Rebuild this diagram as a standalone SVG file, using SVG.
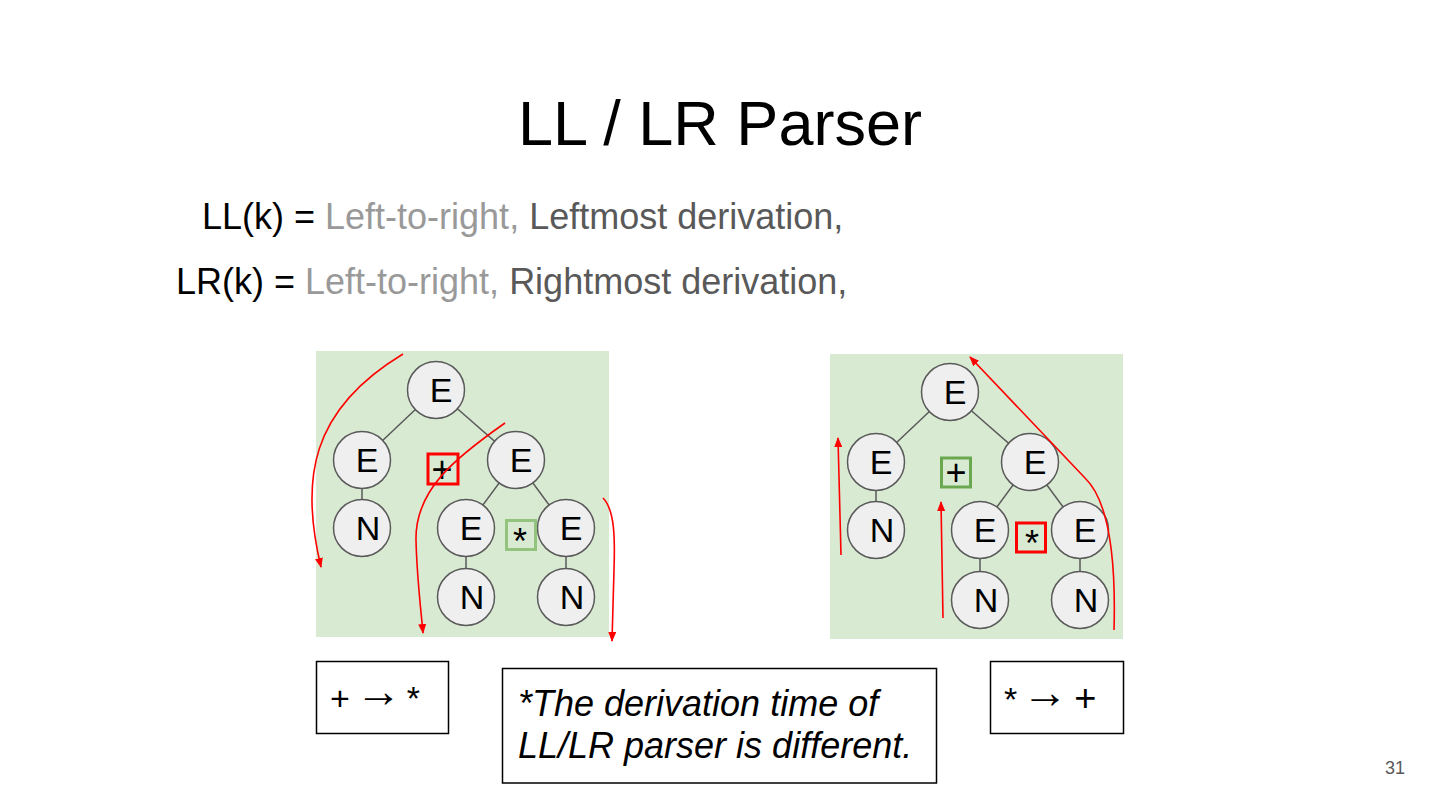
<svg xmlns="http://www.w3.org/2000/svg" width="1440" height="810" viewBox="0 0 1440 810">
<style>
  text { font-family: "Liberation Sans", Arial, sans-serif; }
  .panel { fill: #d9ead3; stroke: none; }
  .edge { stroke: #595959; stroke-width: 1.5; fill: none; }
  .node circle { fill: #efefef; stroke: #595959; stroke-width: 1.5; }
  .node text { font-size: 34px; fill: #000; text-anchor: middle; }
  .op { font-size: 36px; fill: #000; text-anchor: middle; }
  .redbox { fill: none; stroke: #ff0000; stroke-width: 3; }
  .greenbox-light { fill: none; stroke: #93c47d; stroke-width: 3; }
  .greenbox-dark { fill: none; stroke: #6aa84f; stroke-width: 3; }
  .trace { stroke: #ff0000; stroke-width: 1.6; fill: none; marker-end: url(#redhead); }
  .box { fill: #ffffff; stroke: #000; stroke-width: 1.5; }
  .arr { font-size: 46px; }
</style>
<defs>
  <marker id="redhead" markerUnits="userSpaceOnUse" markerWidth="10" markerHeight="8" refX="9" refY="4" orient="auto">
    <path d="M0,0 L10,4 L0,8 z" fill="#ff0000"/>
  </marker>
</defs>
<rect width="1440" height="810" fill="#ffffff"/>

<text x="720" y="145" font-size="63" text-anchor="middle" fill="#000">LL / LR Parser</text>

<text x="202" y="229" font-size="36"><tspan fill="#000">LL(k) = </tspan><tspan fill="#999999">Left-to-right, </tspan><tspan fill="#595959">Leftmost derivation,</tspan></text>
<text x="176" y="294" font-size="36"><tspan fill="#000">LR(k) = </tspan><tspan fill="#999999">Left-to-right, </tspan><tspan fill="#595959">Rightmost derivation,</tspan></text>

<rect class="panel" x="316" y="351" width="293" height="286"/>
<rect class="panel" x="830" y="354" width="293" height="285"/>

<g id="connectors">
  <line class="edge" x1="436" y1="390" x2="362" y2="460"/>
  <line class="edge" x1="436" y1="390" x2="516" y2="460"/>
  <line class="edge" x1="362" y1="460" x2="362" y2="528"/>
  <line class="edge" x1="516" y1="460" x2="466" y2="528"/>
  <line class="edge" x1="516" y1="460" x2="566" y2="528"/>
  <line class="edge" x1="466" y1="528" x2="466" y2="597"/>
  <line class="edge" x1="566" y1="528" x2="566" y2="597"/>

  <line class="edge" x1="950" y1="392" x2="876" y2="462"/>
  <line class="edge" x1="950" y1="392" x2="1030" y2="462"/>
  <line class="edge" x1="876" y1="462" x2="876" y2="530"/>
  <line class="edge" x1="1030" y1="462" x2="980" y2="530"/>
  <line class="edge" x1="1030" y1="462" x2="1080" y2="530"/>
  <line class="edge" x1="980" y1="530" x2="980" y2="600"/>
  <line class="edge" x1="1080" y1="530" x2="1080" y2="600"/>
</g>

<g id="ll-root" class="node"><circle cx="436" cy="390" r="28.5"/><text x="441" y="402">E</text></g>
<g id="ll-e-left" class="node"><circle cx="362" cy="460" r="28.5"/><text x="367" y="472">E</text></g>
<g id="ll-n-left" class="node"><circle cx="362" cy="528" r="28.5"/><text x="368" y="540">N</text></g>
<g id="ll-e-right" class="node"><circle cx="516" cy="460" r="28.5"/><text x="521" y="472">E</text></g>
<g id="ll-e-rl" class="node"><circle cx="466" cy="528" r="28.5"/><text x="471" y="540">E</text></g>
<g id="ll-e-rr" class="node"><circle cx="566" cy="528" r="28.5"/><text x="571" y="540">E</text></g>
<g id="ll-n-rl" class="node"><circle cx="466" cy="597" r="28.5"/><text x="472" y="609">N</text></g>
<g id="ll-n-rr" class="node"><circle cx="566" cy="597" r="28.5"/><text x="572" y="609">N</text></g>
<g id="ll-plus"><rect class="redbox" x="428" y="454" width="30" height="30"/><text class="op" x="442" y="482">+</text></g>
<g id="ll-times"><rect class="greenbox-light" x="506.5" y="520.5" width="29" height="29"/><text class="op" x="520" y="554" font-size="32">*</text></g>

<g id="lr-root" class="node"><circle cx="950" cy="392" r="28.5"/><text x="955" y="404">E</text></g>
<g id="lr-e-left" class="node"><circle cx="876" cy="462" r="28.5"/><text x="881" y="474">E</text></g>
<g id="lr-n-left" class="node"><circle cx="876" cy="530" r="28.5"/><text x="882" y="542">N</text></g>
<g id="lr-e-right" class="node"><circle cx="1030" cy="462" r="28.5"/><text x="1035" y="474">E</text></g>
<g id="lr-e-rl" class="node"><circle cx="980" cy="530" r="28.5"/><text x="985" y="542">E</text></g>
<g id="lr-e-rr" class="node"><circle cx="1080" cy="530" r="28.5"/><text x="1085" y="542">E</text></g>
<g id="lr-n-rl" class="node"><circle cx="980" cy="600" r="28.5"/><text x="986" y="612">N</text></g>
<g id="lr-n-rr" class="node"><circle cx="1080" cy="600" r="28.5"/><text x="1086" y="612">N</text></g>
<g id="lr-plus"><rect class="greenbox-dark" x="941.5" y="458" width="29" height="29"/><text class="op" x="956" y="485">+</text></g>
<g id="lr-times"><rect class="redbox" x="1016.5" y="523" width="29" height="29"/><text class="op" x="1032" y="556" font-size="32">*</text></g>

<g id="traversal-arrows">
  <path class="trace" d="M403,354 C310,410 300,480 321,567"/>
  <path class="trace" d="M505,423 C455,458 415,490 416,540 C417,580 421,610 423,633"/>
  <path class="trace" d="M603,498 C615,510 615,540 614,570 L612,641"/>
  <path class="trace" d="M841,555 L838,438"/>
  <path class="trace" d="M943,618 L941,502"/>
  <path class="trace" d="M1114,630 C1116,560 1110,502 1085,478 L970,357"/>
</g>

<g id="ll-order">
  <rect class="box" x="316.5" y="661.5" width="132" height="72"/>
  <text x="330" y="710" font-size="34" fill="#000">+<tspan class="arr" dx="6" dy="-3">→</tspan><tspan dx="5" dy="3">*</tspan></text>
</g>
<g id="note">
  <rect class="box" x="502.5" y="668.5" width="434" height="114.5"/>
  <text x="518" y="716" font-size="36" font-style="italic" fill="#000">*The derivation time of</text>
  <text x="518" y="758" font-size="36" font-style="italic" fill="#000">LL/LR parser is different.</text>
</g>
<g id="lr-order">
  <rect class="box" x="990.5" y="661.5" width="133" height="72"/>
  <text x="1004" y="711" font-size="34" fill="#000">*<tspan class="arr" dx="5" dy="-3">→</tspan><tspan dx="6" dy="3" font-size="38">+</tspan></text>
</g>

<text x="1405" y="774" font-size="18" text-anchor="end" fill="#595959">31</text>
</svg>
